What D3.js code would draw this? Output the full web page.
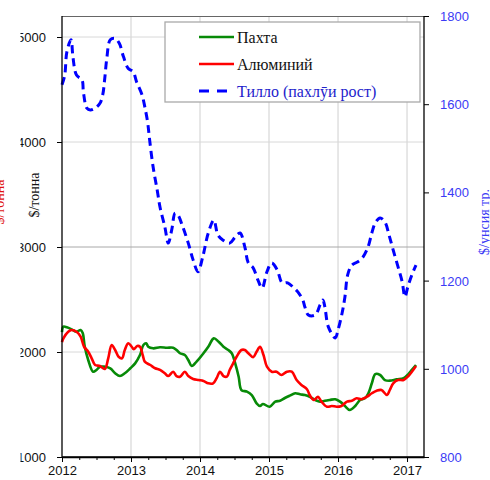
<!DOCTYPE html>
<html>
<head>
<meta charset="utf-8">
<script src="https://cdn.jsdelivr.net/npm/d3@7"></script>
<style>
  html, body { margin: 0; padding: 0; background: #fff; }
  svg { display: block; }
</style>
</head>
<body>
<div id="chart"></div>
<script>
// ---- data ----
const seriesNames = ["Пахта", "Алюминий", "Тилло (пахлӯи рост)"];
const yearTicks = [2012, 2013, 2014, 2015, 2016, 2017];
const leftTicks = [1000, 2000, 3000, 4000, 5000];
const rightTicks = [800, 1000, 1200, 1400, 1600, 1800];
const leftTitle = "$/тонна";
const rightTitle = "$/унсия тр.";

const cottonT = [2012.00,2012.02,2012.07,2012.14,2012.21,2012.27,2012.30,2012.33,2012.38,2012.45,2012.50,2012.55,2012.62,2012.70,2012.77,2012.84,2012.91,2012.99,2013.06,2013.13,2013.18,2013.22,2013.25,2013.32,2013.42,2013.52,2013.61,2013.66,2013.71,2013.78,2013.83,2013.88,2013.95,2014.05,2014.12,2014.20,2014.27,2014.34,2014.41,2014.46,2014.51,2014.56,2014.60,2014.68,2014.75,2014.82,2014.87,2014.91,2015.01,2015.09,2015.16,2015.23,2015.30,2015.38,2015.45,2015.52,2015.59,2015.67,2015.74,2015.81,2015.88,2015.96,2016.03,2016.10,2016.17,2016.25,2016.32,2016.39,2016.44,2016.49,2016.54,2016.61,2016.68,2016.75,2016.85,2016.95,2017.02,2017.07,2017.13];
const cottonV = [2190,2241,2235,2216,2193,2210,2181,2050,1924,1812,1829,1860,1860,1845,1797,1771,1797,1845,1892,1971,2067,2083,2050,2035,2045,2041,2041,2019,1988,1971,1924,1867,1908,1988,2050,2130,2098,2050,2019,1988,1892,1765,1638,1622,1590,1511,1486,1505,1479,1527,1536,1562,1584,1607,1597,1590,1574,1543,1527,1536,1543,1550,1527,1486,1448,1486,1543,1559,1607,1702,1790,1781,1733,1727,1740,1750,1790,1829,1876];

const aluT = [2012.00,2012.02,2012.09,2012.14,2012.21,2012.27,2012.32,2012.38,2012.43,2012.48,2012.55,2012.62,2012.67,2012.72,2012.77,2012.82,2012.87,2012.91,2012.96,2013.01,2013.04,2013.09,2013.13,2013.17,2013.20,2013.28,2013.35,2013.42,2013.49,2013.54,2013.61,2013.66,2013.71,2013.78,2013.83,2013.90,2013.98,2014.05,2014.12,2014.19,2014.24,2014.29,2014.34,2014.39,2014.43,2014.48,2014.53,2014.60,2014.65,2014.70,2014.77,2014.82,2014.87,2014.92,2014.97,2015.04,2015.11,2015.18,2015.26,2015.33,2015.40,2015.47,2015.55,2015.59,2015.65,2015.71,2015.76,2015.84,2015.91,2015.98,2016.05,2016.13,2016.20,2016.27,2016.34,2016.42,2016.49,2016.56,2016.63,2016.71,2016.75,2016.80,2016.87,2016.95,2017.02,2017.07,2017.13];
const aluV = [2095,2130,2193,2210,2193,2146,2050,2003,1940,1876,1867,1838,1940,2067,2019,1955,1940,2019,2083,2050,2026,2057,2050,1971,1908,1876,1845,1829,1797,1771,1812,1771,1765,1812,1771,1743,1733,1724,1702,1702,1750,1812,1771,1765,1829,1892,1955,2019,2019,1988,1950,2003,2050,1971,1860,1812,1812,1781,1812,1812,1733,1686,1645,1590,1543,1574,1527,1479,1486,1479,1486,1527,1536,1559,1550,1574,1607,1631,1638,1590,1638,1702,1733,1733,1771,1812,1867];

const goldT = [2012.00,2012.04,2012.07,2012.13,2012.16,2012.21,2012.29,2012.31,2012.36,2012.41,2012.48,2012.55,2012.59,2012.62,2012.65,2012.70,2012.77,2012.83,2012.89,2012.96,2013.03,2013.08,2013.16,2013.20,2013.24,2013.27,2013.32,2013.38,2013.42,2013.49,2013.54,2013.59,2013.64,2013.68,2013.75,2013.83,2013.90,2013.97,2014.04,2014.12,2014.20,2014.26,2014.33,2014.43,2014.51,2014.58,2014.65,2014.70,2014.77,2014.84,2014.90,2014.97,2015.04,2015.12,2015.19,2015.27,2015.35,2015.42,2015.49,2015.52,2015.57,2015.67,2015.74,2015.78,2015.81,2015.86,2015.96,2016.00,2016.06,2016.10,2016.14,2016.20,2016.28,2016.35,2016.43,2016.49,2016.54,2016.61,2016.68,2016.74,2016.80,2016.87,2016.93,2016.97,2017.01,2017.07,2017.13];
const goldV = [1644,1666,1718,1746,1705,1666,1655,1628,1591,1587,1591,1602,1621,1659,1705,1746,1749,1738,1708,1681,1674,1651,1621,1594,1560,1519,1458,1405,1367,1322,1285,1315,1353,1349,1322,1285,1247,1220,1254,1308,1337,1303,1292,1285,1299,1308,1276,1240,1229,1201,1183,1220,1240,1224,1195,1195,1185,1174,1156,1140,1122,1122,1145,1156,1140,1095,1070,1088,1127,1163,1213,1235,1242,1251,1274,1308,1331,1342,1333,1303,1269,1231,1197,1163,1185,1213,1235];

// ---- layout ----
const W = 490, H = 480;
const L = 62, R = 424, T = 16, B = 457;
const sans = "'Liberation Sans', Arial, sans-serif";
const serif = "'Liberation Serif', 'DejaVu Serif', serif";

const svg = d3.select("#chart").append("svg").attr("width", W).attr("height", H);

const x = d3.scaleLinear().domain([2012, 2017.246]).range([L, R]);
const yL = d3.scaleLinear().domain([1000, 5200]).range([B, T]);
const yR = d3.scaleLinear().domain([800, 1800]).range([B, T]);

// grid
const grid = svg.append("g");
grid.selectAll("line.v").data(yearTicks.slice(1)).join("line")
  .attr("x1", d => x(d)).attr("x2", d => x(d)).attr("y1", T).attr("y2", B)
  .attr("stroke", "#cfcfcf").attr("stroke-width", 1);
grid.selectAll("line.h").data(leftTicks.slice(1)).join("line")
  .attr("x1", L).attr("x2", R).attr("y1", d => yL(d)).attr("y2", d => yL(d))
  .attr("stroke", d => d === 3000 ? "#a8a8a8" : "#d8d8d8").attr("stroke-width", 1);

// top border
svg.append("line").attr("x1", L).attr("x2", R).attr("y1", T + 0.5).attr("y2", T + 0.5)
  .attr("stroke", "#666").attr("stroke-width", 1);

// lines
const mk = (ts, vs) => ts.map((t, i) => [t, vs[i]]);
const lineL = d3.line().x(d => x(d[0])).y(d => yL(d[1])).curve(d3.curveCatmullRom.alpha(0.5));
const lineR = d3.line().x(d => x(d[0])).y(d => yR(d[1])).curve(d3.curveCatmullRom.alpha(0.5));

svg.append("path").datum(mk(cottonT, cottonV)).attr("d", lineL)
  .attr("fill", "none").attr("stroke", "#078a07").attr("stroke-width", 2.6).attr("stroke-linejoin", "round");
svg.append("path").datum(mk(aluT, aluV)).attr("d", lineL)
  .attr("fill", "none").attr("stroke", "#ff0000").attr("stroke-width", 2.6).attr("stroke-linejoin", "round");
svg.append("path").datum(mk(goldT, goldV)).attr("d", lineR)
  .attr("fill", "none").attr("stroke", "#0000ff").attr("stroke-width", 3).attr("stroke-dasharray", "8,5");

// x axis
const fmt = d3.format("d");
const xAxis = svg.append("g").attr("transform", `translate(0,${B})`)
  .call(d3.axisBottom(x).tickValues(yearTicks).tickFormat(fmt).tickSize(5).tickSizeOuter(0));
xAxis.selectAll(".tick text").attr("y", 8).attr("dy", "0.77em").attr("fill", "#111")
  .style("font-family", sans).style("font-size", "13px");
const minor = d3.range(2012, 2017.25, 0.25).filter(v => Math.abs(v - Math.round(v)) > 0.01);
svg.append("g").attr("transform", `translate(0,${B})`)
  .call(d3.axisBottom(x).tickValues(minor).tickFormat("").tickSize(3).tickSizeOuter(0))
  .select(".domain").remove();

// left axis (labels clipped at left edge as in reference)
const yAxisL = svg.append("g").attr("transform", `translate(${L},0)`)
  .call(d3.axisLeft(yL).tickValues(leftTicks).tickFormat("").tickSize(5).tickSizeOuter(0));
yAxisL.select(".domain").attr("d", `M0,${T}V${B}`);
svg.append("clipPath").attr("id", "lclip")
  .append("rect").attr("x", 20.5).attr("y", 0).attr("width", W).attr("height", H);
svg.append("g").attr("clip-path", "url(#lclip)")
  .selectAll("text").data(leftTicks).join("text")
  .attr("x", L - 16).attr("y", d => yL(d)).attr("dy", "0.35em")
  .attr("text-anchor", "end").attr("fill", "#111")
  .style("font-family", sans).style("font-size", "13px")
  .text(fmt);

// right axis
const yAxisR = svg.append("g").attr("transform", `translate(${R},0)`)
  .call(d3.axisRight(yR).tickValues(rightTicks).tickFormat(fmt).tickSize(5).tickSizeOuter(0));
yAxisR.select(".domain").attr("d", `M0,${T}V${B}`);
yAxisR.selectAll(".tick text").attr("x", 16).attr("dy", "0.35em").attr("fill", "#3b3bf5")
  .style("font-family", sans).style("font-size", "13px");

svg.selectAll(".domain").attr("stroke", "#000").attr("stroke-width", 1.3);
svg.append("line").attr("x1", L).attr("x2", R).attr("y1", B).attr("y2", B).attr("stroke", "#000").attr("stroke-width", 1.3);

// axis titles
svg.append("text").attr("transform", "translate(39,195) rotate(-90)")
  .attr("text-anchor", "middle").attr("fill", "#111")
  .style("font-family", serif).style("font-size", "14px")
  .text(leftTitle);
svg.append("text").attr("transform", "translate(3.5,202) rotate(-90)")
  .attr("text-anchor", "middle").attr("fill", "#e01010")
  .style("font-family", serif).style("font-size", "14px")
  .text(leftTitle);
svg.append("text").attr("transform", "translate(489,222) rotate(-90)")
  .attr("text-anchor", "middle").attr("fill", "#3b3bf5")
  .style("font-family", serif).style("font-size", "14px")
  .text(rightTitle);

// legend
const lg = svg.append("g");
lg.append("rect").attr("x", 165).attr("y", 22).attr("width", 255).attr("height", 80)
  .attr("fill", "#fff").attr("stroke", "#aaa").attr("stroke-width", 1.3);
const legY = [37, 64, 91];
const legColors = ["#078a07", "#ff0000", "#0000ff"];
const legText = ["#111", "#111", "#2222cc"];
seriesNames.forEach((name, i) => {
  const ln = lg.append("line").attr("x1", 199).attr("x2", i === 2 ? 227 : 234)
    .attr("y1", legY[i]).attr("y2", legY[i])
    .attr("stroke", legColors[i]).attr("stroke-width", i === 2 ? 3 : 2.6);
  if (i === 2) ln.attr("stroke-dasharray", "10,8");
  lg.append("text").attr("x", 237).attr("y", legY[i]).attr("dy", "0.35em")
    .attr("fill", legText[i])
    .style("font-family", serif).style("font-size", "16px")
    .text(name);
});
</script>
</body>
</html>
